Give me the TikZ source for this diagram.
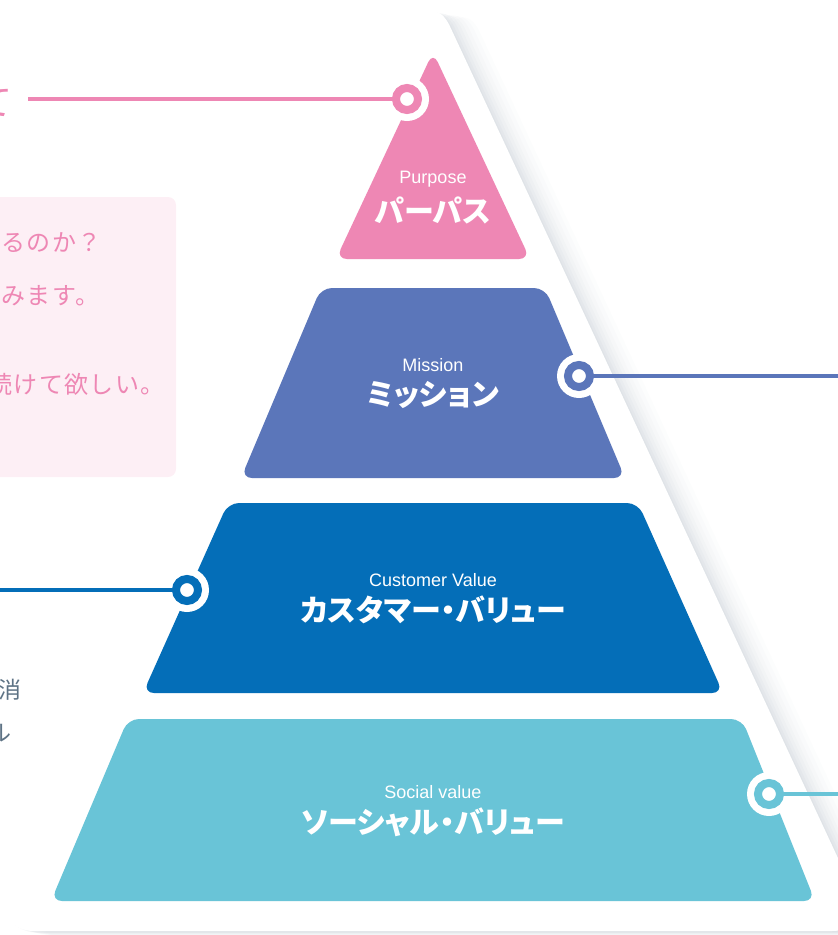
\documentclass[tikz,border=0pt]{standalone}
\usepackage{fontspec}
\setmainfont{Liberation Sans}
\newfontfamily\jp{Noto Sans CJK JP}
\newfontfamily\jpp[RawFeature=+palt]{Noto Sans CJK JP}
\newfontfamily\jpsp[LetterSpace=6]{Noto Sans CJK JP}
\definecolor{ppink}{HTML}{EE87B4}
\definecolor{pmis}{HTML}{5B76BA}
\definecolor{pcus}{HTML}{046EB8}
\definecolor{psoc}{HTML}{69C4D7}
\definecolor{pbox}{HTML}{FDEFF5}
\definecolor{pgray}{HTML}{5E7385}
\definecolor{shad}{HTML}{A9B3BF}
\begin{document}
\begin{tikzpicture}[x=1pt,y=-1pt,
  en/.style={font=\fontsize{18}{18}\selectfont, text=white, inner sep=0},
  jl/.style={font=\jpp\bfseries\fontsize{30}{30}\selectfont, text=white, inner sep=0},
  pk/.style={font=\jpsp\fontsize{24}{24}\selectfont, text=ppink, inner sep=0},
  gy/.style={font=\jp\fontsize{23}{23}\selectfont, text=pgray, inner sep=0},
  halo/.style={circle, fill=white, minimum size=44pt, inner sep=0},
  ring/.style={circle, fill=white, draw=#1, line width=8pt, minimum size=22pt, inner sep=0},
  conn/.style={draw=#1, line width=3.6pt},
  layer/.style={fill=#1, rounded corners=11pt}]
\useasboundingbox (0,0) rectangle (838,935);
\clip (0,0) rectangle (838,935);

% soft shadow of the white pyramid
\foreach \dx/\dy/\op in {30/6/0.03,25/5/0.035,20/4/0.04,16/4/0.05,12/3/0.06,8/2/0.07,5/2/0.08,2/1/0.08}{
  \begin{scope}[shift={(\dx,\dy)}]
    \fill[shad, opacity=\op, rounded corners=40pt] (433,-10) -- (872,931) -- (-6,931) -- cycle;
  \end{scope}
}
\fill[white, rounded corners=40pt] (433,-10) -- (872,931) -- (-6,931) -- cycle;

% pink text box (cropped)
\fill[pbox, rounded corners=8pt] (-20,197) rectangle (176,477);

% cropped texts
\node[font=\jp\fontsize{36}{36}\selectfont, text=ppink, inner sep=0, anchor=west] (th) at (-24,103) {て};
\node[pk, anchor=west] (p1) at (1,243) {るのか？};
\node[pk, anchor=west] (p2) at (1,296) {みます。};
\node[pk, anchor=west] (p3) at (-12,384) {続けて欲しい。};
\node[gy, anchor=east] (g1) at (22,690) {消};
\node[gy, anchor=east] (g2) at (12,733) {ル};

% pyramid layers
\fill[layer=ppink] (433,52) -- (530,259) -- (336,259) -- cycle;
\fill[layer=pmis] (321,288) -- (545,288) -- (625,478) -- (241,478) -- cycle;
\fill[layer=pcus] (228,503) -- (638,503) -- (723,693) -- (143,693) -- cycle;
\fill[layer=psoc] (128,719) -- (742,719) -- (815,901) -- (51,901) -- cycle;

% labels
\node[en] (l1a) at (433,179) {Purpose};
\node[jl] (l1b) at (433,210) {パーパス};
\node[en] (l2a) at (433,365) {Mission};
\node[jl] (l2b) at (433,395) {ミッション};
\node[en] (l3a) at (433,580) {Customer Value};
\node[jl] (l3b) at (433,610) {カスタマー・バリュー};
\node[en] (l4a) at (433,792) {Social value};
\node[jl] (l4b) at (433,822) {ソーシャル・バリュー};

% markers and connectors
\node[halo] (h1) at (407,99) {};
\node[halo] (h2) at (579,376) {};
\node[halo] (h3) at (187,590) {};
\node[halo] (h4) at (769,794) {};
\coordinate (e1) at (28,99);
\coordinate (e2) at (845,376);
\coordinate (e3) at (-5,590);
\coordinate (e4) at (845,794);
\draw[conn=ppink] (e1) -- (h1.center);
\draw[conn=pmis] (e2) -- (h2.center);
\draw[conn=pcus] (e3) -- (h3.center);
\draw[conn=psoc] (e4) -- (h4.center);
\node[ring=ppink] (r1) at (h1) {};
\node[ring=pmis] (r2) at (h2) {};
\node[ring=pcus] (r3) at (h3) {};
\node[ring=psoc] (r4) at (h4) {};
\end{tikzpicture}
\end{document}
